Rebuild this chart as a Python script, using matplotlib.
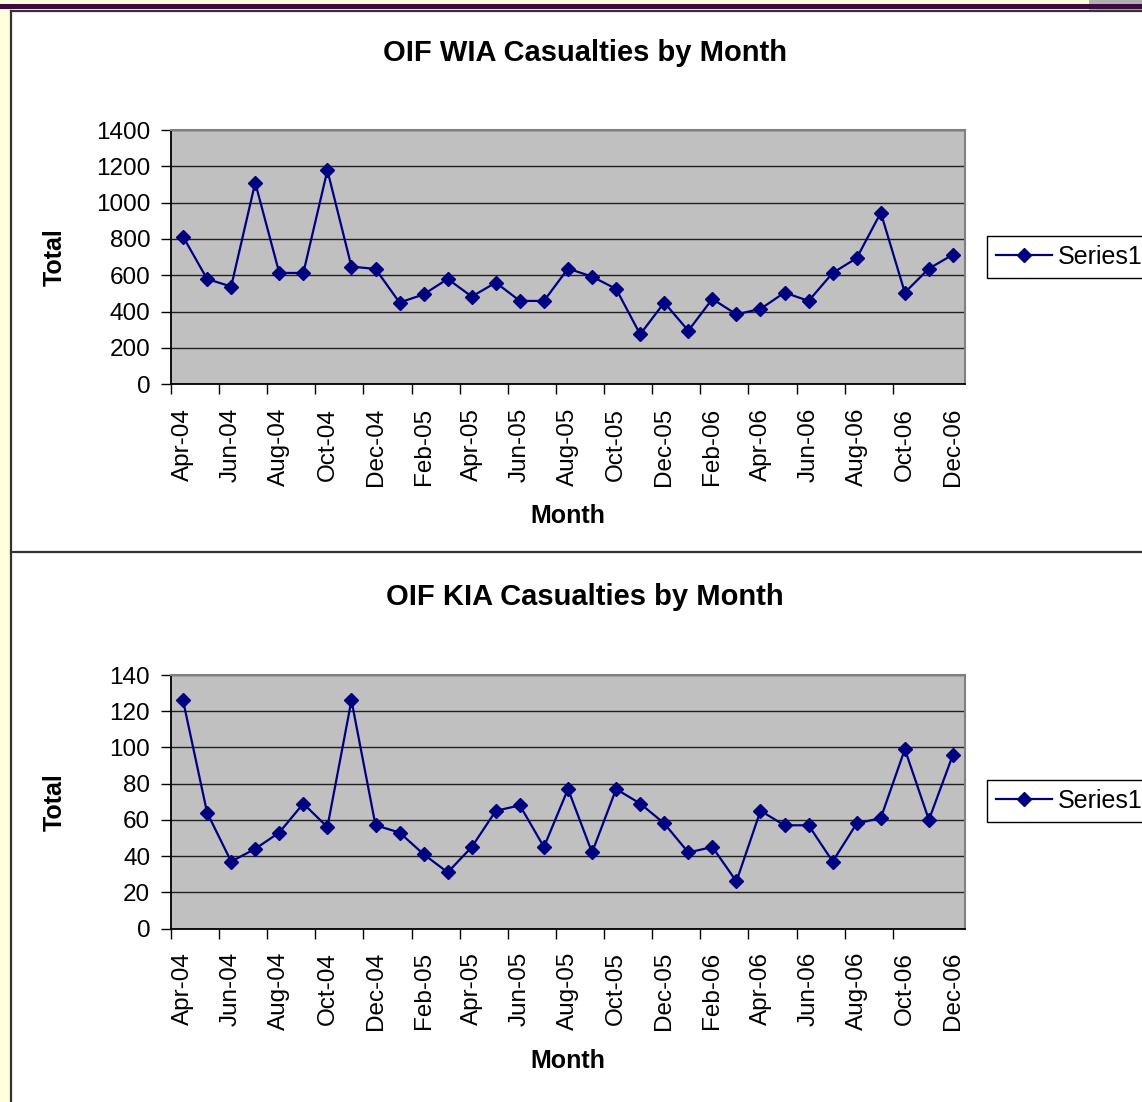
"""OIF WIA / KIA casualties by month, Excel-2003 chart look."""

import matplotlib
matplotlib.use("Agg")
import matplotlib.pyplot as plt
from matplotlib.patches import Rectangle
from matplotlib.lines import Line2D

plt.rcParams["font.family"] = ["Liberation Sans", "DejaVu Sans"]

MONTHS = [
    "Apr-04", "May-04", "Jun-04", "Jul-04", "Aug-04", "Sep-04", "Oct-04", "Nov-04", "Dec-04",
    "Jan-05", "Feb-05", "Mar-05", "Apr-05", "May-05", "Jun-05", "Jul-05", "Aug-05", "Sep-05",
    "Oct-05", "Nov-05", "Dec-05", "Jan-06", "Feb-06", "Mar-06", "Apr-06", "May-06", "Jun-06",
    "Jul-06", "Aug-06", "Sep-06", "Oct-06", "Nov-06", "Dec-06",
]

WIA = [
    813, 580, 538, 1110, 613, 613, 1178, 648, 635,
    450, 495, 580, 483, 560, 459, 459, 637, 593,
    525, 275, 450, 295, 470, 385, 415, 505, 459,
    613, 695, 945, 505, 637, 714,
]

KIA = [
    126, 64, 37, 44, 53, 69, 56, 126, 57,
    53, 41, 31, 45, 65, 68, 45, 77, 42,
    77, 69, 58, 42, 45, 26, 65, 57, 57,
    37, 58, 61, 99, 60, 96,
]

W, H = 1142, 1102
NAVY = "#000080"


def fx(px):
    return px / W


def fy(py):
    return 1 - py / H


def draw_chart(fig, values, title, top, bottom, ymax, ystep, title_y, legend_top):
    ax = fig.add_axes([fx(171), fy(bottom), fx(965) - fx(171), fy(top) - fy(bottom)])
    ax.set_facecolor("#C0C0C0")
    x = list(range(len(values)))
    ax.plot(x, values, color=NAVY, linewidth=1.6, marker="D", markersize=7.5,
            markerfacecolor=NAVY, markeredgecolor=NAVY, label="Series1", zorder=3)

    ax.set_xlim(-0.5, len(values) - 0.5)
    ax.set_ylim(0, ymax)
    ax.set_yticks(range(0, ymax + 1, ystep))
    ax.yaxis.grid(True, color="#202020", linewidth=1.0)
    ax.set_axisbelow(True)

    ax.set_xticks(x[::2])
    ax.set_xticklabels(MONTHS[::2], rotation=90)
    ax.set_xticks([i - 0.5 for i in range(0, len(values) - 1, 2)], minor=True)
    ax.tick_params(axis="x", which="major", length=0, pad=17, labelsize=17.5)
    ax.tick_params(axis="x", which="minor", length=7, width=1.0, color="black")
    ax.tick_params(axis="y", length=7, width=1.0, pad=8, labelsize=17.5)

    for side in ("left", "bottom"):
        ax.spines[side].set_color("black")
        ax.spines[side].set_linewidth(1.3)
    for side in ("top", "right"):
        ax.spines[side].set_color("#808080")
        ax.spines[side].set_linewidth(1.5)

    fig.text(fx(585), fy(title_y), title, ha="center", va="center",
             fontsize=21, fontweight="bold")
    mid = (top + bottom) / 2
    fig.text(fx(55), fy(mid), "Total", ha="center", va="center", rotation=90,
             fontsize=18, fontweight="bold")
    fig.text(fx(568), fy(bottom + 132), "Month", ha="center", va="center",
             fontsize=18, fontweight="bold")

    leg = ax.legend(loc="upper left", bbox_to_anchor=(fx(987), fy(legend_top)),
                    bbox_transform=fig.transFigure, borderaxespad=0, fontsize=18,
                    fancybox=False, framealpha=1, edgecolor="black",
                    handlelength=2.25, handletextpad=0.25, borderpad=0.35)
    leg.get_frame().set_linewidth(1.0)
    return ax


def main():
    fig = plt.figure(figsize=(W / 100, H / 100), dpi=100)
    fig.patch.set_facecolor("white")

    # page decorations around the two embedded charts
    fig.patches.append(Rectangle((0, 0), fx(10), 1, transform=fig.transFigure,
                                 facecolor="#FFFFDD", edgecolor="none"))
    fig.patches.append(Rectangle((0, fy(10)), 1, 10 / H, transform=fig.transFigure,
                                 facecolor="#FFFFDD", edgecolor="none"))
    fig.patches.append(Rectangle((fx(1089), fy(10)), 1, 10 / H, transform=fig.transFigure,
                                 facecolor="#B0B0B0", edgecolor="none"))
    fig.patches.append(Rectangle((0, fy(8.5)), 1, 4 / H, transform=fig.transFigure,
                                 facecolor="#3F0A3F", edgecolor="none"))
    fig.lines.append(Line2D([fx(10.5), 1], [fy(10.5), fy(10.5)], transform=fig.transFigure,
                            color="#333333", linewidth=1.6))
    fig.lines.append(Line2D([fx(10.5), fx(10.5)], [0, fy(10.5)], transform=fig.transFigure,
                            color="#333333", linewidth=1.6))
    fig.lines.append(Line2D([fx(10.5), 1], [fy(552), fy(552)], transform=fig.transFigure,
                            color="#333333", linewidth=1.6))

    draw_chart(fig, WIA, "OIF WIA Casualties by Month", 130, 384.3, 1400, 200, 53, 236)
    draw_chart(fig, KIA, "OIF KIA Casualties by Month", 675, 928.5, 140, 20, 597, 780)

    fig.savefig("out.png", dpi=100)


if __name__ == "__main__":
    main()
